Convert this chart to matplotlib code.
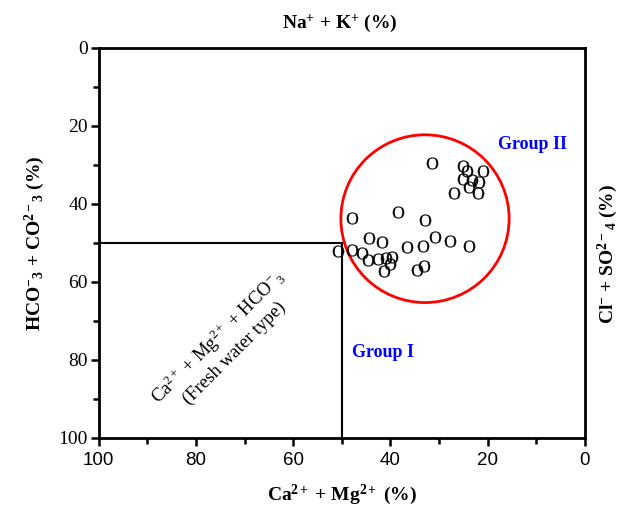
import matplotlib
matplotlib.use("Agg")
import matplotlib.pyplot as plt
from matplotlib.patches import Ellipse
from matplotlib.ticker import MultipleLocator

plt.rcParams['mathtext.fontset'] = 'custom'
plt.rcParams['mathtext.rm'] = 'Liberation Serif'
plt.rcParams['mathtext.bf'] = 'Liberation Serif:bold'
plt.rcParams['mathtext.it'] = 'Liberation Serif:italic'

# Ca2+ + Mg2+ (%) (x, reversed axis) and HCO3- + CO3 2- (%) (y, reversed axis)
ca_mg = [31.4, 25.0, 24.3, 20.9, 25.0, 23.3, 21.8, 23.8, 22.0, 27.0,
         47.9, 38.5, 32.9, 44.5, 41.8, 30.9, 27.7, 23.8, 36.6, 33.4,
         50.8, 48.0, 45.9, 44.7, 42.5, 40.9, 39.6, 40.1, 41.3, 34.6, 33.1]
hco3_co3 = [29.6, 30.4, 31.7, 31.7, 33.7, 33.8, 34.4, 35.7, 37.1, 37.3,
            43.5, 42.0, 44.1, 48.8, 49.8, 48.4, 49.5, 50.9, 51.1, 50.9,
            52.2, 51.8, 52.5, 54.4, 54.2, 53.9, 53.5, 55.5, 57.3, 56.9, 55.9]

x_ticks = [100, 80, 60, 40, 20, 0]
y_ticks = [0, 20, 40, 60, 80, 100]

fig = plt.figure(figsize=(6.29, 5.14), dpi=100)
ax = fig.add_axes([0.157, 0.148, 0.773, 0.759])

ax.plot(ca_mg, hco3_co3, linestyle='none', marker=r'$\mathrm{O}$', markersize=8.5,
        markerfacecolor='black', markeredgecolor='black', markeredgewidth=0.2)

# division lines
ax.plot([100, 50], [50, 50], color='black', lw=1.5)
ax.plot([50, 50], [50, 100], color='black', lw=1.5)

# red circle
ax.add_patch(Ellipse((32.9, 43.8), 34.6, 43.0, fill=False, edgecolor='red', lw=2))

ax.set_xlim(100, 0)
ax.set_ylim(100, 0)
ax.set_xticks(x_ticks)
ax.set_yticks(y_ticks)
ax.xaxis.set_minor_locator(MultipleLocator(10))
ax.yaxis.set_minor_locator(MultipleLocator(10))
ax.tick_params(which='major', direction='out', length=6, width=1.8)
ax.tick_params(which='minor', direction='out', length=4, width=1.8)
ax.tick_params(axis='x', which='both', top=False, pad=4)
ax.tick_params(axis='y', which='both', right=False, pad=2)
for lab in ax.get_xticklabels():
    lab.set_family('Liberation Sans')
    lab.set_fontsize(13.5)
for lab in ax.get_yticklabels():
    lab.set_family('Liberation Serif')
    lab.set_fontsize(14)
for sp in ax.spines.values():
    sp.set_linewidth(2)

serif = 'Liberation Serif'
ax.set_xlabel(r'$\mathbf{Ca^{2+}}$ + $\mathbf{Mg^{2+}}$ (%)', family=serif,
              fontweight='bold', fontsize=14, labelpad=10)
ax.set_ylabel(r'$\mathbf{HCO^{-}{}_{3}}$ + $\mathbf{CO^{2-}{}_{3}}$ (%)', family=serif,
              fontweight='bold', fontsize=14, labelpad=8)
fig.text(0.54, 0.955, r'$\mathbf{Na^{+}}$ + $\mathbf{K^{+}}$ (%)', family=serif,
         fontweight='bold', fontsize=14, ha='center', va='center')
fig.text(0.967, 0.505, r'$\mathbf{Cl^{-}}$ + $\mathbf{SO^{2-}{}_{4}}$ (%)', family=serif,
         fontweight='bold', fontsize=14, ha='center', va='center', rotation=90)

ax.text(10.7, 24.9, 'Group II', color='blue', family=serif, fontweight='bold',
        fontsize=13, ha='center', va='center')
ax.text(41.6, 78.0, 'Group I', color='blue', family=serif, fontweight='bold',
        fontsize=13, ha='center', va='center')
ax.text(74, 76, r'Ca$^{2+}$ + Mg$^{2+}$ + HCO$^{-}{}_{3}$' + '\n(Fresh water type)',
        family=serif, fontsize=13.5, ha='center', va='center', rotation=45,
        multialignment='center', linespacing=1.2)

fig.savefig('out.png', dpi=100)
